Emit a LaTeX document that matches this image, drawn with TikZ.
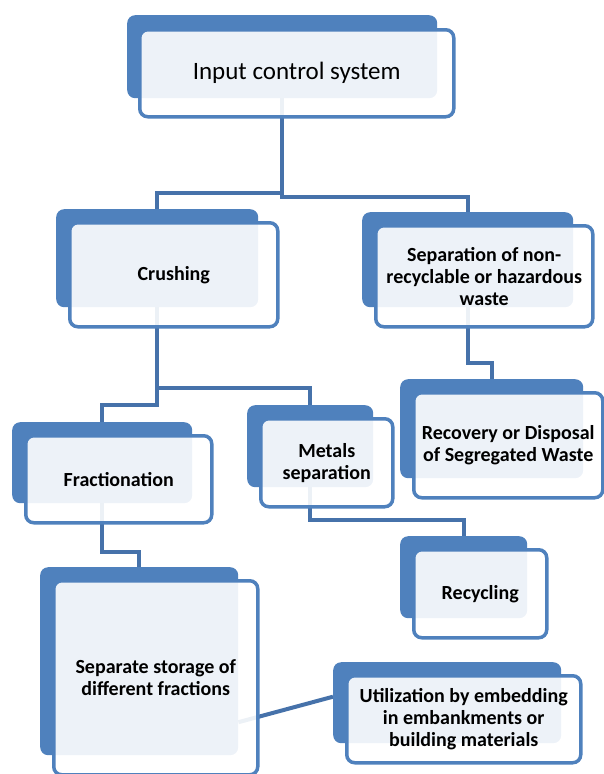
\documentclass[tikz,border=0pt]{standalone}
\usepackage{fontspec}
\setmainfont{Carlito}
\usetikzlibrary{backgrounds,calc}
\definecolor{boxblue}{RGB}{79,129,189}
\definecolor{linkblue}{RGB}{70,114,170}

\begin{document}
\begin{tikzpicture}[x=1pt,y=-1pt,
        backbox/.style={rectangle,rounded corners=8pt,fill=boxblue,anchor=north west,inner sep=0pt},
        frontbox/.style={rectangle,rounded corners=8pt,draw=boxblue,line width=3.5pt,fill=white,fill opacity=0.9,text opacity=1,
                         anchor=north west,align=center,font=\fontsize{20}{22}\selectfont\bfseries},
        link/.style={draw=linkblue,line width=4pt}]
    \useasboundingbox (0,0) rectangle (603,774);

    % top level
    \node[backbox,minimum width=310pt,minimum height=83pt] (inb) at (127,15) {};
    \node[frontbox,minimum width=314pt,minimum height=87pt,font=\fontsize{25}{28}\selectfont] (in) at (138,28) {Input control system};

    % second level
    \node[backbox,minimum width=202pt,minimum height=98pt] (crb) at (56,209) {};
    \node[frontbox,minimum width=208pt,minimum height=104pt] (cr) at (68,221) {Crushing};
    \node[backbox,minimum width=211pt,minimum height=95pt] (sepb) at (362,212) {};
    \node[frontbox,minimum width=217pt,minimum height=101pt] (sep) at (374,224) {Separation of non-\\recyclable or hazardous\\waste};

    % third level
    \node[backbox,minimum width=180pt,minimum height=81pt] (frb) at (12,422) {};
    \node[frontbox,minimum width=186pt,minimum height=87pt] (fr) at (24,434) {Fractionation};
    \node[backbox,minimum width=126pt,minimum height=82pt] (metb) at (247,405) {};
    \node[frontbox,minimum width=132pt,minimum height=88pt] (met) at (259,417) {Metals\\separation};
    \node[backbox,minimum width=183pt,minimum height=99pt] (recb) at (400,379) {};
    \node[frontbox,minimum width=189pt,minimum height=105pt] (rec) at (412,391) {Recovery or Disposal\\of Segregated Waste};

    % bottom
    \node[backbox,minimum width=127pt,minimum height=82pt] (recyb) at (400,536) {};
    \node[frontbox,minimum width=133pt,minimum height=88pt] (recy) at (412,548) {Recycling};
    \node[backbox,minimum width=198pt,minimum height=188pt] (stb) at (40,567) {};
    \node[frontbox,minimum width=204pt,minimum height=194pt] (st) at (52,579) {Separate storage of\\different fractions};
    \node[backbox,minimum width=228pt,minimum height=81pt] (utb) at (333,662) {};
    \node[frontbox,minimum width=234pt,minimum height=87pt] (ut) at (345,674) {Utilization by embedding\\in embankments or\\building materials};

    \begin{scope}[on background layer]
        \draw[link] (inb.south) -- ++(0,95) -| (crb.north);
        \draw[link] (inb.south) -- ++(0,99) -| (sepb.north);
        \draw[link] (crb.south) -- ++(0,81) -| (metb.north);
        \draw[link] (crb.south) -- ++(0,98) -| (frb.north);
        \draw[link] (sepb.south) -- ++(0,56) -| (recb.north);
        \draw[link] (metb.south) -- ++(0,33) -| (recyb.north);
        \draw[link] (frb.south) -- ++(0,49) -| (stb.north);
        \draw[link] ($(stb.east)+(0,61)$) -- ($(utb.west)+(0,-6)$);
    \end{scope}
\end{tikzpicture}
\end{document}
